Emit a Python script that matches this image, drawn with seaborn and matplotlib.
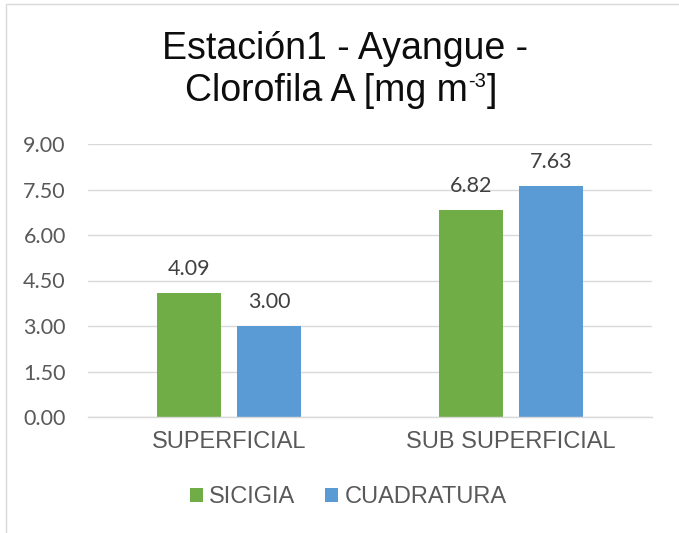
import matplotlib
matplotlib.use("Agg")
import matplotlib.pyplot as plt
from matplotlib.patches import Rectangle
import seaborn as sns
import pandas as pd

categories = ["SUPERFICIAL", "SUB SUPERFICIAL"]
series = ["SICIGIA", "CUADRATURA"]
sicigia = [4.09, 6.82]
cuadratura = [3.00, 7.63]
yticks = [0.0, 1.5, 3.0, 4.5, 6.0, 7.5, 9.0]
colors = ["#70AD47", "#5B9BD5"]
title_line1 = "Estación1 - Ayangue -"
title_line2_main = "Clorofila A [mg m"
title_line2_sup = "-3"
title_line2_end = "]"

sns.set_style("white")
plt.rcParams["font.family"] = ["Liberation Sans", "DejaVu Sans"]

df = pd.DataFrame({
    "cat": categories * 2,
    "serie": [series[0]] * len(categories) + [series[1]] * len(categories),
    "val": sicigia + cuadratura,
})

W, H = 679, 533
fig = plt.figure(figsize=(W / 100, H / 100), dpi=100)
ax = fig.add_axes([88 / W, 1 - 417 / H, 564 / W, 273 / H])

sns.barplot(data=df, x="cat", y="val", hue="serie", hue_order=series,
            order=categories, palette=colors, width=0.567, gap=0.2,
            saturation=1, linewidth=0, ax=ax, errorbar=None)

ax.set_ylim(0, 9)
ax.set_xlim(-0.5, len(categories) - 0.5)
ax.set_yticks(yticks)
ax.set_yticklabels([f"{v:.2f}" for v in yticks], fontfamily="Lato",
                   fontsize=15.5, color="#595959")
ax.set_axisbelow(True)
ax.yaxis.grid(True, color="#D9D9D9", linewidth=1)
ax.xaxis.grid(False)
for s in ["top", "right", "left"]:
    ax.spines[s].set_visible(False)
ax.spines["bottom"].set_color("#D9D9D9")
ax.spines["bottom"].set_linewidth(1)
ax.tick_params(axis="y", length=0, pad=16)
ax.tick_params(axis="x", length=0, pad=10, labelsize=17, labelcolor="#595959")
ax.set_xlabel("")
ax.set_ylabel("")

for cont in ax.containers:
    labels = [f"{b.get_height():.2f}" for b in cont]
    ax.bar_label(cont, labels=labels, padding=10, fontfamily="Lato",
                 fontsize=15.5, color="#404040")

sns.move_legend(ax, "center", bbox_to_anchor=(348 / W, 1 - 497 / H),
                bbox_transform=fig.transFigure, ncol=2, frameon=False,
                title=None, fontsize=17, handlelength=0.55, handleheight=0.55,
                handletextpad=0.25, columnspacing=1.3)
for t in ax.get_legend().get_texts():
    t.set_color("#595959")

tcol = "#0d0d0d"
fig.text(344.5 / W, 1 - 59 / H, title_line1, ha="center", va="baseline",
         fontsize=27, color=tcol)

# second title line with a superscript, centred as a whole
renderer = fig.canvas.get_renderer()
t_main = fig.text(0, 1 - 101 / H, title_line2_main, ha="left",
                  va="baseline", fontsize=27, color=tcol)
t_sup = fig.text(0, 1 - 87 / H, title_line2_sup, ha="left",
                 va="baseline", fontsize=14.5, color=tcol)
t_end = fig.text(0, 1 - 101 / H, title_line2_end, ha="left",
                 va="baseline", fontsize=27, color=tcol)
w_main = t_main.get_window_extent(renderer).width
w_sup = t_sup.get_window_extent(renderer).width
w_end = t_end.get_window_extent(renderer).width
total = w_main + w_sup + w_end
x0 = 341 - total / 2
t_main.set_x(x0 / W)
t_sup.set_x((x0 + w_main) / W)
t_end.set_x((x0 + w_main + w_sup + 1) / W)

fig.patches.append(Rectangle((5.5 / W, -0.05), 1.1, (1 - 3.5 / H) + 0.05,
                             transform=fig.transFigure, fill=False,
                             edgecolor="#D9D9D9", linewidth=1))

fig.savefig("out.png", dpi=100)
